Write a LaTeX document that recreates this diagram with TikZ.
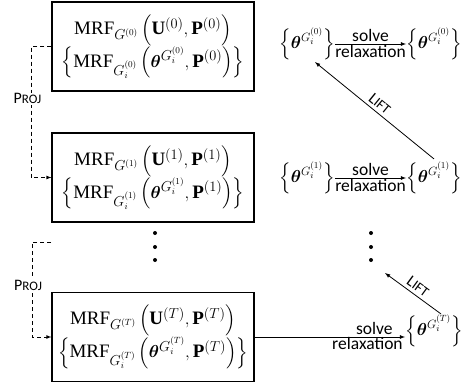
\documentclass[tikz,border=0pt]{standalone}
\usepackage{amsmath}
\usepackage{fontspec}
\setmainfont{Carlito}
\setmathrm{Liberation Serif}
\usetikzlibrary{positioning, arrows}
\usetikzlibrary{calc}

\begin{document}
\begin{tikzpicture}[x=1pt, y=-1pt, >=latex,
    every node/.style={font=\fontsize{17.5}{19}\selectfont},
    mrf/.style={draw, line width=1.1pt, minimum width=202pt, minimum height=89pt, align=center, inner sep=0pt,
        font=\fontsize{19}{21}\selectfont},
    tset/.style={inner sep=0pt, font=\fontsize{18.5}{20}\selectfont},
    smallcap/.style={font=\fontsize{16}{18}\selectfont},
    proj/.style={dash pattern=on 4pt off 3pt, line width=0.8pt, ->},
    conn/.style={line width=0.8pt, ->},
    dotc/.style={circle, fill, inner sep=0pt, minimum size=4pt}]
    \useasboundingbox (0,0) rectangle (464,388);

    % left column: MRF boxes
    \node[mrf] (m0) at (153,46.5) {$\mathrm{MRF}_{G^{(0)}}\left(\mathbf{U}^{(0)},\mathbf{P}^{(0)}\right)$\\[0pt]
        $\left\{\mathrm{MRF}_{G_i^{(0)}}\left(\boldsymbol{\theta}^{G_i^{(0)}},\mathbf{P}^{(0)}\right)\right\}$};
    \node[mrf] (m1) at (153,177.5) {$\mathrm{MRF}_{G^{(1)}}\left(\mathbf{U}^{(1)},\mathbf{P}^{(1)}\right)$\\[0pt]
        $\left\{\mathrm{MRF}_{G_i^{(1)}}\left(\boldsymbol{\theta}^{G_i^{(1)}},\mathbf{P}^{(1)}\right)\right\}$};
    \node[mrf] (mT) at (153,337) {$\mathrm{MRF}_{G^{(T)}}\left(\mathbf{U}^{(T)},\mathbf{P}^{(T)}\right)$\\[0pt]
        $\left\{\mathrm{MRF}_{G_i^{(T)}}\left(\boldsymbol{\theta}^{G_i^{(T)}},\mathbf{P}^{(T)}\right)\right\}$};

    % right column: relaxations
    \node[tset] (th0a) at (307,44) {$\left\{\boldsymbol{\theta}^{G_i^{(0)}}\right\}$};
    \node[tset] (th0b) at (434,44) {$\left\{\boldsymbol{\theta}^{G_i^{(0)}}\right\}$};
    \node[tset] (th1a) at (307,178) {$\left\{\boldsymbol{\theta}^{G_i^{(1)}}\right\}$};
    \node[tset] (th1b) at (434,178) {$\left\{\boldsymbol{\theta}^{G_i^{(1)}}\right\}$};
    \node[tset] (thT) at (434,331) {$\left\{\boldsymbol{\theta}^{G_i^{(T)}}\right\}$};

    % dots
    \foreach \y [count=\k] in {233,247,260} {
        \node[dotc] (dl\k) at (155,\y) {};
        \node[dotc] (dr\k) at (371,\y) {};
    }
    \coordinate (projstart) at (51,242);

    \path[conn]
    (th0a) edge node[above, inner sep=2pt] {solve} node[below, inner sep=1pt] {relaxation} (th0b)
    (th1a) edge node[above, inner sep=2pt] {solve} node[below, inner sep=1pt] {relaxation} (th1b);
    \draw[conn] (mT.east) -- (mT.east -| thT.west)
        node[pos=1, above left, xshift=-10pt, inner sep=2pt] {solve}
        node[pos=1, below left, xshift=-1pt, yshift=1pt, inner sep=1pt] {relaxation};

    \draw[conn] ($(th1b.north)+(0,-3)$) -- ($(th0a.south)+(8,2)$)
        node[midway, sloped, above, smallcap] {L{\fontsize{14}{14}\selectfont IFT}};
    \draw[conn] ($(thT.north)+(7,-1)$) -- ($(dr3)+(14,13)$)
        node[midway, sloped, above, smallcap] {L{\fontsize{14}{14}\selectfont IFT}};

    \draw[proj] (m0.west) -- ++(-20,0) |- (m1.west)
        node[pos=0.2, fill=white, inner sep=1pt, xshift=-4pt, smallcap] {P{\fontsize{13}{13}\selectfont ROJ}};
    \draw[proj] (projstart) -- ++(-19,0) |- (mT.west)
        node[pos=0.2, fill=white, inner sep=1pt, xshift=-4pt, yshift=-5pt, smallcap] {P{\fontsize{13}{13}\selectfont ROJ}};
\end{tikzpicture}
\end{document}
